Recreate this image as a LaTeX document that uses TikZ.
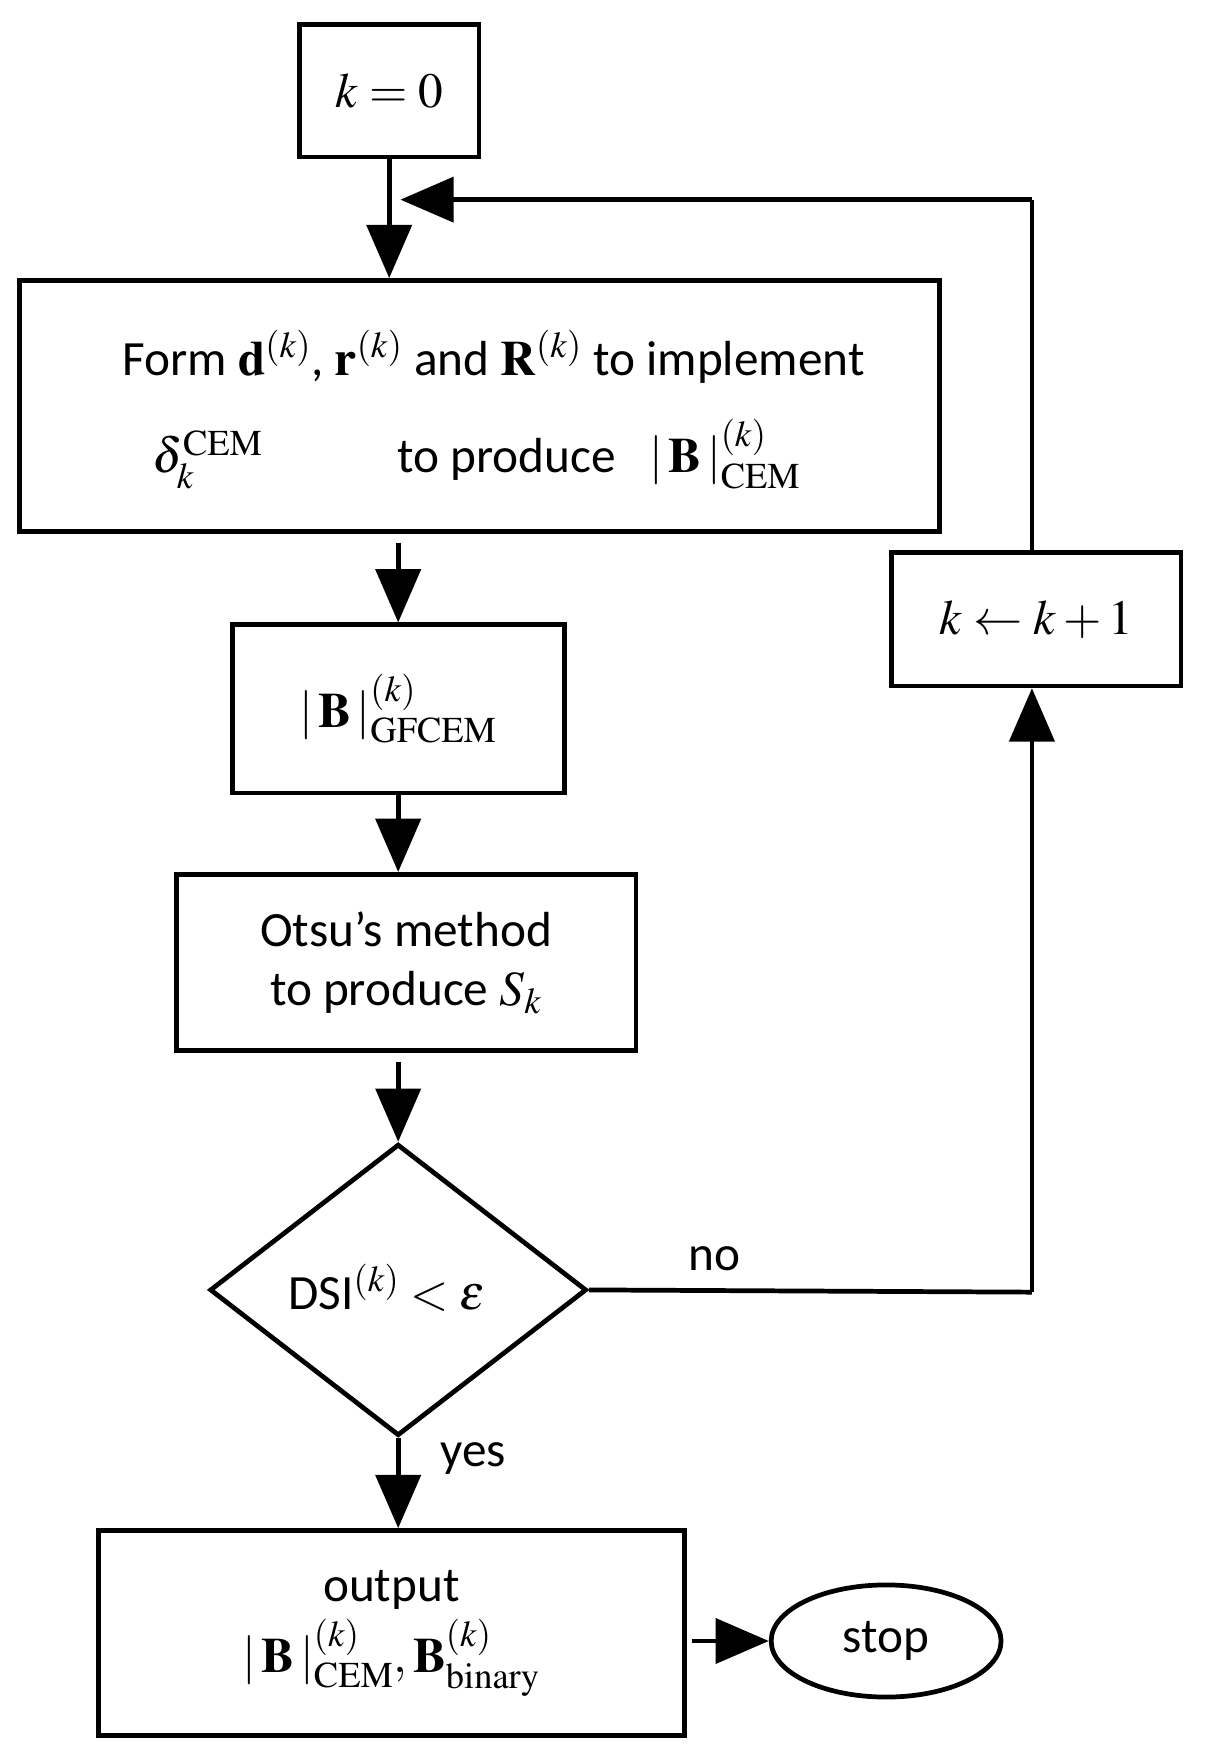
\documentclass[tikz,border=0pt]{standalone}
\usepackage{mathptmx}
\usepackage{fontspec}
\setmainfont{Carlito}
\usetikzlibrary{arrows.meta, shapes.geometric}
\begin{document}
\begin{tikzpicture}[x=0.02cm, y=-0.02cm]
\tikzstyle{every node}+=[inner sep=0pt, font=\fontsize{25}{34}\selectfont]
\tikzstyle{box}=[draw, line width=2.4pt, rectangle, align=center]
\tikzstyle{flow}=[line width=2.4pt, -{Triangle[length=0.95cm, width=0.8cm]}]
\useasboundingbox (0,0) rectangle (1080,1570);
% boxes
\node [box, minimum width=3.2cm, minimum height=2.36cm] (init) at (347,81) {$k=0$};
\node [box, minimum width=16.42cm, minimum height=4.48cm] (form) at (427.5,362) {};
\node (formA) at (440,318) {Form $\mathbf{d}^{(k)}$, $\mathbf{r}^{(k)}$ and $\mathbf{R}^{(k)}$ to implement};
\node (formB) at (425,405) {$\delta_k^{\mathrm{CEM}}$\hspace{2.4cm}to produce\hspace{0.6cm}$|\,\mathbf{B}\,|_{\mathrm{CEM}}^{(k)}$};
\node [box, minimum width=5.92cm, minimum height=3cm] (gf) at (355,632) {$|\,\mathbf{B}\,|_{\mathrm{GFCEM}}^{(k)}$};
\node [box, minimum width=8.2cm, minimum height=3.14cm] (otsu) at (362,858) {Otsu’s method\\[-4pt]to produce $\mathit{S_{k}}$};
\node [draw, line width=2.4pt, diamond, minimum width=6.72cm, minimum height=5.2cm] (test) at (355,1150) {};
\node (testT) at (345,1148) {DSI$^{(k)}<\varepsilon$};
\node [box, minimum width=5.16cm, minimum height=2.38cm] (inc) at (924,552) {$k\leftarrow k+1$};
\node [box, minimum width=10.44cm, minimum height=3.66cm] (out) at (349,1456) {output\\[2pt]$|\,\mathbf{B}\,|_{\mathrm{CEM}}^{(k)},\mathbf{B}_{\mathrm{binary}}^{(k)}$};
\node [draw, line width=2.4pt, ellipse, minimum width=4.1cm, minimum height=2cm] (stop) at (790,1463) {stop};
\coordinate (back) at (920,178);
\coordinate (turn) at (920,1152);
\node (no) at (637,1122) {no};
\node (yes) at (422,1300) {yes};
% connectors
\draw [flow] (init.south) -- (form.north -| init.south);
\draw [line width=2.4pt] (inc.north -| back) -- (back);
\draw [flow] (back) -- ([xshift=10*0.02cm]back -| init.south);
\draw [flow] ([yshift=-8*0.02cm]form.south -| gf.north) -- (gf.north);
\draw [flow] (gf.south) -- (otsu.north -| gf.south);
\draw [flow] ([yshift=-8*0.02cm]otsu.south -| test.north) -- (test.north);
\draw [line width=2.4pt] (test.east) -- (turn);
\draw [flow] (turn) -- (inc.south -| turn);
\draw [flow] (test.south) -- (out.north -| test.south);
\draw [flow] ([xshift=5*0.02cm]out.east |- stop.west) -- (stop.west);
\end{tikzpicture}
\end{document}
